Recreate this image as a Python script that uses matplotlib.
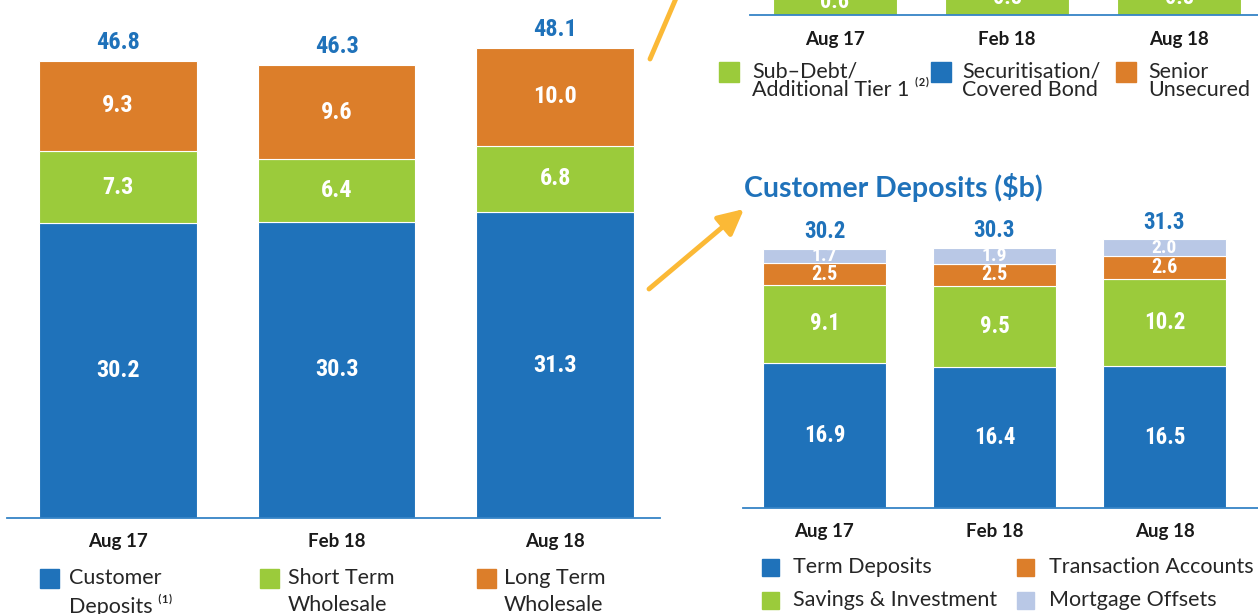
import matplotlib
matplotlib.use("Agg")
import numpy as np
import matplotlib.pyplot as plt
from matplotlib import font_manager
from matplotlib.patches import Rectangle, FancyArrowPatch

periods = ['Aug 17', 'Feb 18', 'Aug 18']

# funding composition ($b)
customer_deposits = [30.2, 30.3, 31.3]
short_term_wholesale = [7.3, 6.4, 6.8]
long_term_wholesale = [9.3, 9.6, 10.0]
funding_totals = [46.8, 46.3, 48.1]

# customer deposits breakdown ($b)
term_deposits = [16.9, 16.4, 16.5]
savings_investment = [9.1, 9.5, 10.2]
transaction_accounts = [2.5, 2.5, 2.6]
mortgage_offsets = [1.7, 1.9, 2.0]
deposit_totals = [30.2, 30.3, 31.3]

# long term wholesale panel (only the bottom segment is in view)
sub_debt = [0.6, 0.8, 0.8]

BLUE = '#1f72ba'
GREEN = '#9bcb3b'
ORANGE = '#dc7e2a'
LILAC = '#b9c8e6'
LINE = '#3584c6'
ARROW = '#fbb936'
DARK = '#1a1a1a'

names = {f.name for f in font_manager.fontManager.ttflist}
NUM_FONT = next(n for n in ['Liberation Sans Narrow', 'Roboto Condensed',
                            'Open Sans Condensed', 'Liberation Sans', 'DejaVu Sans']
                if n in names)
TXT_FONT = ['Lato', 'DejaVu Sans']

W, H = 1258, 614
fig = plt.figure(figsize=(W / 100, H / 100), dpi=100)


def axes_px(x0, x1, y_base, height):
    return fig.add_axes([x0 / W, 1 - y_base / H, (x1 - x0) / W, height / H])


def style(ax, pad):
    for s in ['top', 'left', 'right']:
        ax.spines[s].set_visible(False)
    ax.spines['bottom'].set_color(LINE)
    ax.spines['bottom'].set_linewidth(1.3)
    ax.set_yticks([])
    ax.set_xticks(range(len(periods)))
    ax.set_xticklabels(periods, fontfamily=TXT_FONT, fontweight='bold',
                       fontsize=13.5, color=DARK)
    ax.tick_params(axis='x', length=0, pad=pad)
    ax.patch.set_alpha(0)


def num_kw(fs, color):
    return dict(color=color, fontsize=fs, fontfamily=NUM_FONT, fontweight='bold',
                fontstretch='condensed')


def stacked(ax, layers, colors, width, sizes):
    x = np.arange(len(periods))
    bottom = np.zeros(len(periods))
    bars = None
    for vals, c, fs in zip(layers, colors, sizes):
        bars = ax.bar(x, vals, width, bottom=bottom, color=c,
                      edgecolor='white', linewidth=0.8)
        ax.bar_label(bars, labels=[f'{v:.1f}' for v in vals], label_type='center',
                     **num_kw(fs, 'white'))
        bottom += np.array(vals)
    return bars


def legend_item(x_sq, y, size, color, lines, x_txt, dy, fs=15.5):
    fig.add_artist(Rectangle((x_sq / W, 1 - (y + size / 2) / H), size / W, size / H,
                             transform=fig.transFigure, color=color))
    for i, line in enumerate(lines):
        fig.text(x_txt / W, 1 - (y + i * dy) / H, line, va='center', ha='left',
                 fontsize=fs, fontfamily=TXT_FONT, fontweight='normal', color='#262626')


def arrow(p0, p1, head=True):
    style_ = '-|>,head_length=0.7,head_width=0.35' if head else '-'
    fig.add_artist(FancyArrowPatch((p0[0] / W, 1 - p0[1] / H), (p1[0] / W, 1 - p1[1] / H),
                                   transform=fig.transFigure, arrowstyle=style_,
                                   mutation_scale=22, color=ARROW, lw=3.5,
                                   shrinkA=0, shrinkB=0))


# left: total funding
ax1 = axes_px(7, 660, 518, 50 * 9.775)
last = stacked(ax1, [customer_deposits, short_term_wholesale, long_term_wholesale],
               [BLUE, GREEN, ORANGE], 0.72, [17.5, 17.5, 17.5])
ax1.bar_label(last, labels=[f'{v:.1f}' for v in funding_totals], padding=5,
              **num_kw(17.5, BLUE))
ax1.set_xlim(-0.508, 2.48)
ax1.set_ylim(0, 50)
style(ax1, 11)

# right bottom: customer deposits
ax2 = axes_px(743, 1258, 508, 35 * 8.585)
last = stacked(ax2, [term_deposits, savings_investment, transaction_accounts, mortgage_offsets],
               [BLUE, GREEN, ORANGE, LILAC], 0.724, [16.5, 16.5, 14.5, 14])
ax2.bar_label(last, labels=[f'{v:.1f}' for v in deposit_totals], padding=4,
              **num_kw(16.5, BLUE))
ax2.set_xlim(-0.479, 2.55)
ax2.set_ylim(0, 35)
style(ax2, 11)

# right top: long term wholesale (cut off by the frame, as in the source)
ax3 = axes_px(750, 1258, 14.5, 200)
stacked(ax3, [sub_debt], [GREEN], 0.72, [16])
ax3.set_xlim(-0.494, 2.459)
ax3.set_ylim(0, 5)
style(ax3, 12)

fig.text(744 / W, 1 - 187 / H, 'Customer Deposits (\\$b)', ha='left', va='center',
         fontsize=20.5, fontfamily=TXT_FONT, fontweight='bold', color=BLUE)

# legends
legend_item(40, 578, 19, BLUE, ['Customer', 'Deposits \u207d\u00b9\u207e'], 69, 27)
legend_item(260, 578, 19, GREEN, ['Short Term', 'Wholesale'], 288, 27)
legend_item(477, 578, 19, ORANGE, ['Long Term', 'Wholesale'], 504, 27)

legend_item(719, 72, 20, GREEN, ['Sub\u2013Debt/', 'Additional Tier 1 \u207d\u00b2\u207e'], 752, 18)
legend_item(931, 72, 20, BLUE, ['Securitisation/', 'Covered Bond'], 962, 18)
legend_item(1116, 72, 20, ORANGE, ['Senior', 'Unsecured'], 1148, 18)

legend_item(762, 567, 17, BLUE, ['Term Deposits'], 793, 0)
legend_item(1017, 567, 17, ORANGE, ['Transaction Accounts'], 1049, 0)
legend_item(762, 600, 17, GREEN, ['Savings & Investment'], 793, 0)
legend_item(1017, 600, 17, LILAC, ['Mortgage Offsets'], 1049, 0)

# pointer arrows
arrow((650, 59), (686, -25), head=False)
arrow((649, 289), (744, 209))

fig.savefig('out.png', dpi=100)
